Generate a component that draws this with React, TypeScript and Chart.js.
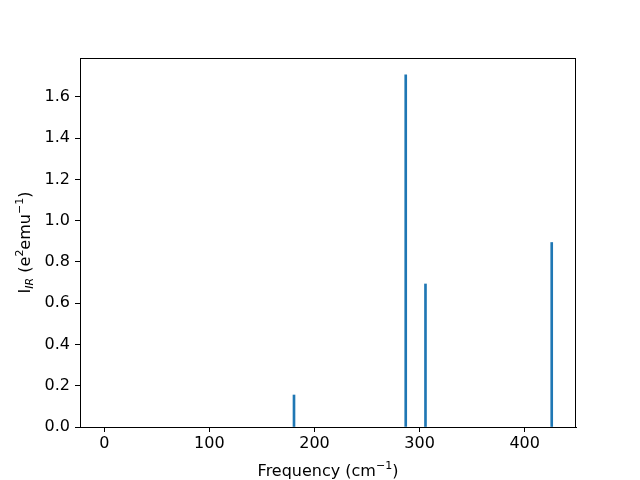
import React, { useEffect, useRef } from "react";
import { Chart, registerables } from "chart.js";

Chart.register(...registerables);

const frequencies = [180.5, 286.8, 305.6, 425.7];
const intensities = [0.155, 1.707, 0.693, 0.894];
const xTicks = [0, 100, 200, 300, 400];
const yTicks = [0, 0.2, 0.4, 0.6, 0.8, 1.0, 1.2, 1.4, 1.6];

const FONT = "DejaVu Sans";
const FS = 16;

type Seg = { t: string; style?: "sub" | "sup"; italic?: boolean };

function drawRich(ctx: CanvasRenderingContext2D, segs: Seg[], cx: number, baseY: number) {
  const small = Math.round(FS * 0.7);
  const fontFor = (s: Seg) =>
    `${s.italic ? "italic " : ""}${s.style ? small : FS}px "${FONT}"`;
  let total = 0;
  for (const s of segs) {
    ctx.font = fontFor(s);
    total += ctx.measureText(s.t).width;
  }
  let x = cx - total / 2;
  ctx.textAlign = "left";
  ctx.textBaseline = "alphabetic";
  for (const s of segs) {
    ctx.font = fontFor(s);
    const dy = s.style === "sub" ? 3.5 : s.style === "sup" ? -7 : 0;
    ctx.fillText(s.t, x, baseY + dy);
    x += ctx.measureText(s.t).width;
  }
}

const framePlugin = {
  id: "frame",
  afterDraw(chart: any) {
    const { ctx, chartArea } = chart;
    ctx.save();
    ctx.strokeStyle = "#000";
    ctx.lineWidth = 1;
    ctx.strokeRect(
      Math.round(chartArea.left) + 0.5,
      Math.round(chartArea.top) + 0.5,
      Math.round(chartArea.right - chartArea.left) - 1,
      Math.round(chartArea.bottom - chartArea.top)
    );
    ctx.fillStyle = "#000";
    const midX = (chartArea.left + chartArea.right) / 2;
    drawRich(
      ctx,
      [{ t: "Frequency (cm" }, { t: "\u22121", style: "sup" }, { t: ")" }],
      midX,
      475.5
    );
    const midY = (chartArea.top + chartArea.bottom) / 2;
    ctx.translate(29.5, midY);
    ctx.rotate(-Math.PI / 2);
    drawRich(
      ctx,
      [
        { t: "I" },
        { t: "IR", style: "sub", italic: true },
        { t: " (e" },
        { t: "2", style: "sup" },
        { t: "emu" },
        { t: "\u22121", style: "sup" },
        { t: ")" },
      ],
      0,
      0
    );
    ctx.restore();
  },
};

export default function App() {
  const ref = useRef<HTMLCanvasElement | null>(null);
  useEffect(() => {
    document.body.style.margin = "0";
    const canvas = ref.current!;
    const chart = new Chart(canvas, {
      type: "bar",
      data: {
        datasets: [
          {
            data: frequencies.map((f, i) => ({ x: f, y: intensities[i] })),
            backgroundColor: "#1f77b4",
            borderWidth: 0,
            barThickness: 2,
          },
        ],
      },
      options: {
        animation: false,
        responsive: false,
        maintainAspectRatio: false,
        layout: { padding: { top: 58, right: 64, left: 0, bottom: 0 } },
        plugins: { legend: { display: false }, tooltip: { enabled: false } },
        scales: {
          x: {
            type: "linear",
            min: -23.1,
            max: 448.8,
            offset: false,
            afterBuildTicks: (s: any) => {
              s.ticks = xTicks.map((v) => ({ value: v }));
            },
            afterFit: (s: any) => {
              s.height = 53;
            },
            grid: {
              offset: false,
              drawOnChartArea: false,
              drawTicks: true,
              tickLength: 5,
              color: "#000",
            },
            border: { display: true, color: "#000" },
            ticks: {
              color: "#000",
              padding: 2,
              maxRotation: 0,
              font: { family: FONT, size: FS },
              callback: (v: any) => String(v),
            },
          },
          y: {
            type: "linear",
            min: 0,
            max: 1.788,
            afterBuildTicks: (s: any) => {
              s.ticks = yTicks.map((v) => ({ value: v }));
            },
            afterFit: (s: any) => {
              s.width = 80;
            },
            grid: {
              offset: false,
              drawOnChartArea: false,
              drawTicks: true,
              tickLength: 5,
              color: "#000",
            },
            border: { display: true, color: "#000" },
            ticks: {
              color: "#000",
              padding: 5,
              font: { family: FONT, size: FS },
              callback: (v: any) => Number(v).toFixed(1),
            },
          },
        },
      },
      plugins: [framePlugin],
    });
    return () => chart.destroy();
  }, []);
  return (
    <div style={{ width: 640, height: 480, background: "#fff" }}>
      <canvas ref={ref} width={640} height={480} style={{ width: 640, height: 480 }} />
    </div>
  );
}
